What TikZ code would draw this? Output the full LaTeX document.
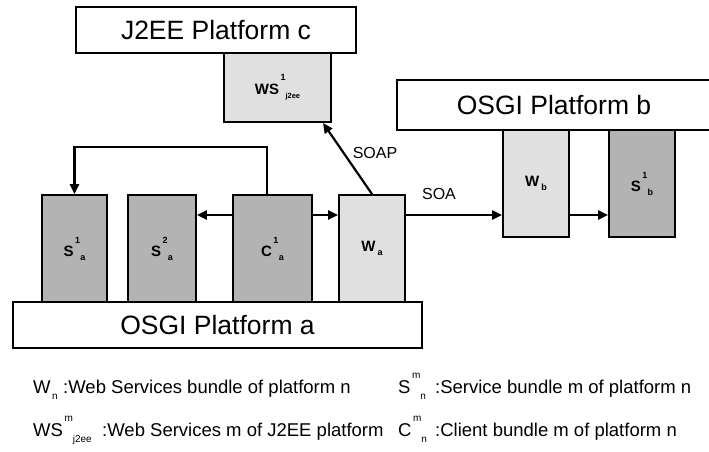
\documentclass[tikz,border=0pt]{standalone}
\usepackage{fontspec}
\setmainfont{Liberation Sans}
\usetikzlibrary{arrows.meta}
\definecolor{dk}{HTML}{B3B3B3}
\definecolor{lt}{HTML}{E0E0E0}
\newcommand{\fs}[1]{\fontsize{#1}{#1}\selectfont}
\newcommand{\blab}[3]{\textbf{#1}\hspace{1.5pt}\raisebox{13pt}{\fs{9}\textbf{#2}}\hspace{0.3pt}\raisebox{-4pt}{\fs{9}\textbf{#3}}}
\newcommand{\bsub}[2]{\textbf{#1}\hspace{2pt}\raisebox{-4pt}{\fs{9}\textbf{#2}}}
\begin{document}
\begin{tikzpicture}[x=1pt,y=-1pt,
  plat/.style={draw=black,line width=1.8pt,fill=white,inner sep=0pt,font=\fs{26.5}},
  bund/.style={draw=black,line width=1.8pt,inner sep=0pt,font=\fs{15}},
  dark/.style={bund,fill=dk},
  light/.style={bund,fill=lt},
  arr/.style={line width=2.2pt,-{Triangle[length=10pt,width=9pt]}},
  lbl/.style={font=\fs{16},inner sep=0pt},
  leg/.style={font=\fs{18.5},inner sep=0pt,anchor=base west}]
\useasboundingbox (0,0) rectangle (709,452);
% platforms
\node[plat,minimum width=280pt,minimum height=46pt] (j2ee) at (216,30) {J2EE Platform c};
\node[plat,minimum width=409pt,minimum height=46pt] (osgia) at (217.5,325) {OSGI Platform a};
\node[plat,minimum width=314pt,minimum height=50pt] (osgib) at (554,105) {OSGI Platform b};
% bundles
\node[light,minimum width=107pt,minimum height=69pt] (wsj) at (277.5,87.5) {\textbf{WS}\hspace{1.5pt}\raisebox{14pt}{\fs{9}\textbf{1}}\raisebox{-4pt}{\fs{7.5}\textbf{j2ee}}};
\node[dark,minimum width=65pt,minimum height=107pt] (s1a) at (74.5,248.5) {\blab{S}{1}{a}};
\node[dark,minimum width=68pt,minimum height=107pt] (s2a) at (162,248.5) {\blab{S}{2}{a}};
\node[dark,minimum width=79pt,minimum height=107pt] (c1a) at (272.5,248.5) {\blab{C}{1}{a}};
\node[light,minimum width=66pt,minimum height=107pt] (wa) at (372,248.5) {\bsub{W}{a}};
\node[light,minimum width=66pt,minimum height=107pt] (wb) at (536,183.5) {\bsub{W}{b}};
\node[dark,minimum width=66pt,minimum height=107pt] (s1b) at (642,183.5) {\blab{S}{1}{b}};
% connectors
\coordinate (ya) at (0,215);
\coordinate (lp) at (267,147);
\coordinate (st) at (323,123);
\draw[arr] (c1a.west |- ya) -- (s2a.east |- ya);
\draw[arr] (c1a.east |- ya) -- (wa.west |- ya);
\draw[arr] (lp |- c1a.north) -- (lp) -| (s1a.north);
\draw[arr] (wa.north) -- (st);
\draw[arr] (wa.east |- ya) -- (wb.west |- ya);
\draw[arr] (wb.east |- ya) -- (s1b.west |- ya);
\node[lbl] (soap) at (375,153) {SOAP};
\node[lbl] (soa) at (439,194) {SOA};
% legend
\node[leg] (l1) at (33,393) {W\hspace{1.5pt}\raisebox{-6pt}{\fs{10}n}};
\node[leg] (l1t) at (63,393) {:Web Services bundle of platform n};
\node[leg] (l2) at (33,436) {WS\hspace{1.5pt}\raisebox{15pt}{\fs{10}m}\raisebox{-6pt}{\fs{10}j2ee}};
\node[leg] (l2t) at (102,436) {:Web Services m of J2EE platform};
\node[leg] (l3) at (398,393) {S\hspace{1.5pt}\raisebox{15pt}{\fs{10}m}\raisebox{-6pt}{\fs{10}n}};
\node[leg] (l3t) at (435,393) {:Service bundle m of platform n};
\node[leg] (l4) at (398,436) {C\hspace{1.5pt}\raisebox{15pt}{\fs{10}m}\raisebox{-6pt}{\fs{10}n}};
\node[leg] (l4t) at (435,436) {:Client bundle m of platform n};
\end{tikzpicture}
\end{document}
